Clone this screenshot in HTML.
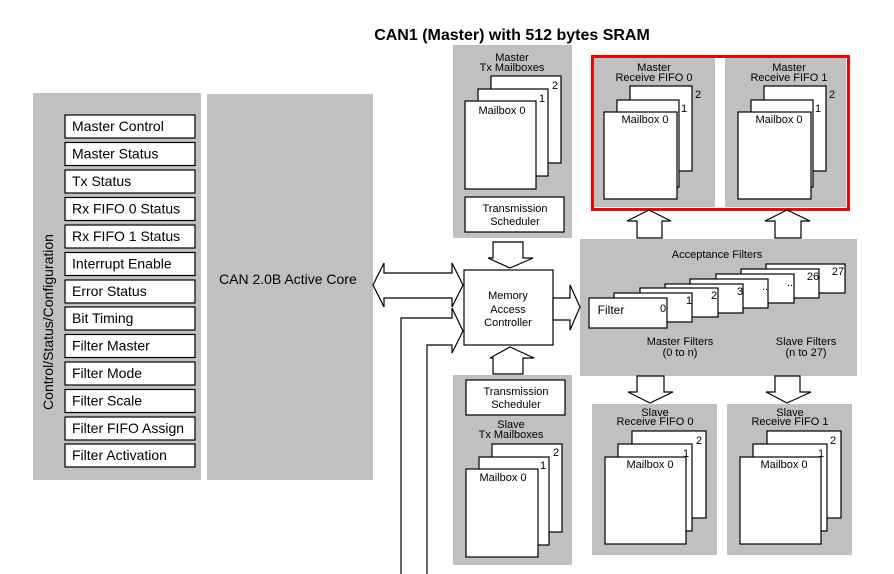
<!DOCTYPE html>
<html><head><meta charset="utf-8"><style>
html,body{margin:0;padding:0;background:#fff;}
svg{display:block;font-family:"Liberation Sans",Arial,sans-serif;}
</style></head><body>
<svg width="894" height="574" viewBox="0 0 894 574" xmlns="http://www.w3.org/2000/svg">
<g fill="#c0c0c0">
<rect x="33" y="93" width="168" height="387"/>
<rect x="207" y="94" width="166" height="386"/>
<rect x="453" y="45" width="119" height="193"/>
<rect x="594" y="58" width="121" height="149"/>
<rect x="725" y="58" width="121" height="149"/>
<rect x="580" y="239" width="277" height="137"/>
<rect x="453" y="375" width="119" height="190"/>
<rect x="592" y="404" width="125" height="151"/>
<rect x="727" y="404" width="125" height="151"/>
</g>
<rect x="592.5" y="56.5" width="256" height="153" fill="none" stroke="#f00" stroke-width="3"/>
<text x="512" y="40" font-size="16" font-weight="bold" text-anchor="middle">CAN1 (Master) with 512 bytes SRAM</text>
<g stroke="#000" stroke-width="1.2" fill="#fff" font-size="14">
<rect x="65" y="115" width="130" height="23"/>
<rect x="65" y="142.5" width="130" height="23"/>
<rect x="65" y="170" width="130" height="23"/>
<rect x="65" y="197.5" width="130" height="23"/>
<rect x="65" y="225" width="130" height="23"/>
<rect x="65" y="252.5" width="130" height="23"/>
<rect x="65" y="280" width="130" height="23"/>
<rect x="65" y="307" width="130" height="23"/>
<rect x="65" y="334.5" width="130" height="23"/>
<rect x="65" y="362" width="130" height="23"/>
<rect x="65" y="389.5" width="130" height="23"/>
<rect x="65" y="417" width="130" height="23"/>
<rect x="65" y="444" width="130" height="23"/>
</g>
<g font-size="14" fill="#000">
<text x="72" y="131">Master Control</text>
<text x="72" y="158.5">Master Status</text>
<text x="72" y="186">Tx Status</text>
<text x="72" y="213.5">Rx FIFO 0 Status</text>
<text x="72" y="241">Rx FIFO 1 Status</text>
<text x="72" y="268.5">Interrupt Enable</text>
<text x="72" y="296">Error Status</text>
<text x="72" y="323">Bit Timing</text>
<text x="72" y="350.5">Filter Master</text>
<text x="72" y="378">Filter Mode</text>
<text x="72" y="405.5">Filter Scale</text>
<text x="72" y="433">Filter FIFO Assign</text>
<text x="72" y="460">Filter Activation</text>
<text transform="translate(53,322) rotate(-90)" text-anchor="middle">Control/Status/Configuration</text>
<text x="219" y="284">CAN 2.0B Active Core</text>
</g>
<g stroke="#000" stroke-width="1.2" fill="#fff">
<!-- master tx -->
<rect x="491" y="76" width="70" height="87"/>
<rect x="478" y="89" width="70" height="87"/>
<rect x="465" y="101" width="71" height="88"/>
<rect x="465" y="197" width="99" height="35"/>
<!-- master fifo 0 -->
<rect x="630" y="86" width="62" height="85"/>
<rect x="617" y="100" width="62" height="87"/>
<rect x="604" y="112" width="73" height="87"/>
<rect x="764" y="86" width="62" height="85"/>
<rect x="751" y="100" width="62" height="87"/>
<rect x="738" y="112" width="73" height="87"/>
<!-- slave tx -->
<rect x="466" y="380" width="99" height="35"/>
<rect x="492" y="444" width="70" height="88"/>
<rect x="479" y="457" width="70" height="88"/>
<rect x="466" y="469" width="72" height="88"/>
<!-- slave fifo -->
<rect x="632" y="431" width="74" height="87"/>
<rect x="618" y="444" width="74" height="87"/>
<rect x="605" y="457" width="81" height="87"/>
<rect x="767" y="431" width="74" height="87"/>
<rect x="753" y="444" width="74" height="87"/>
<rect x="740" y="457" width="81" height="87"/>
<!-- filters -->
<rect x="766" y="264" width="79" height="29"/>
<rect x="741" y="269" width="78" height="29"/>
<rect x="716" y="274" width="78" height="29"/>
<rect x="690" y="279" width="78" height="29"/>
<rect x="665" y="284" width="78" height="29"/>
<rect x="640" y="288" width="78" height="29"/>
<rect x="614" y="293" width="78" height="29"/>
<rect x="589" y="298" width="78" height="30"/>
<!-- MAC -->
<rect x="464" y="270" width="89" height="75"/>
<!-- arrows -->
<polygon points="637,238 637,221 627,221 649,210 671,221 662,221 662,238"/>
<polygon points="775,238 775,221 765,221 787,210 810,221 801,221 801,238"/>
<polygon points="637,376 664,376 664,392 673,392 650,403 628,392 637,392"/>
<polygon points="775,376 800,376 800,392 811,392 787,403 766,392 775,392"/>
<polygon points="493,242 523,242 523,258 533,258 510,268 488,258 493,258"/>
<polygon points="493,374 523,374 523,358 534,358 510,347 490,358 493,358"/>
<polygon points="553,298 570,298 570,285 580,307 570,330 570,320 553,320"/>
<polygon points="373,285 384,263 384,273 452,273 452,263 463,285 452,307 452,298 384,298 384,307"/>
<polyline points="401,574 401,318 452,318 452,308 463,331 452,353 452,345 427,345 427,574"/>
</g>
<g font-size="11" fill="#000" text-anchor="middle">
<text x="512" y="61">Master</text><text x="512" y="71">Tx Mailboxes</text>
<text x="555" y="89">2</text><text x="542" y="102">1</text><text x="502" y="114">Mailbox 0</text>
<text x="515" y="212">Transmission</text><text x="515" y="225">Scheduler</text>
<text x="654" y="71">Master</text><text x="654" y="81">Receive FIFO 0</text>
<text x="698" y="98">2</text><text x="684" y="112">1</text><text x="645" y="123">Mailbox 0</text>
<text x="789" y="71">Master</text><text x="789" y="81">Receive FIFO 1</text>
<text x="832" y="98">2</text><text x="818" y="112">1</text><text x="779" y="123">Mailbox 0</text>
<text x="717" y="258">Acceptance Filters</text>
<text x="611" y="314" font-size="12">Filter</text>
<text x="663" y="312">0</text><text x="689" y="304">1</text><text x="714" y="299">2</text><text x="740" y="295">3</text><text x="765" y="290">..</text><text x="790" y="286">..</text><text x="813" y="280">26</text><text x="838" y="275">27</text>
<text x="680" y="345">Master Filters</text><text x="680" y="356">(0 to n)</text>
<text x="806" y="345">Slave Filters</text><text x="806" y="356">(n to 27)</text>
<text x="508" y="299" font-size="11">Memory</text><text x="508" y="313">Access</text><text x="508" y="326">Controller</text>
<text x="516" y="395">Transmission</text><text x="516" y="408">Scheduler</text>
<text x="511" y="428">Slave</text><text x="511" y="438">Tx Mailboxes</text>
<text x="556" y="456">2</text><text x="543" y="469">1</text><text x="503" y="481">Mailbox 0</text>
<text x="655" y="416">Slave</text><text x="655" y="425">Receive FIFO 0</text>
<text x="699" y="444">2</text><text x="686" y="457">1</text><text x="650" y="468">Mailbox 0</text>
<text x="790" y="416">Slave</text><text x="790" y="425">Receive FIFO 1</text>
<text x="833" y="444">2</text><text x="821" y="457">1</text><text x="784" y="468">Mailbox 0</text>
</g>
</svg>
</body></html>
